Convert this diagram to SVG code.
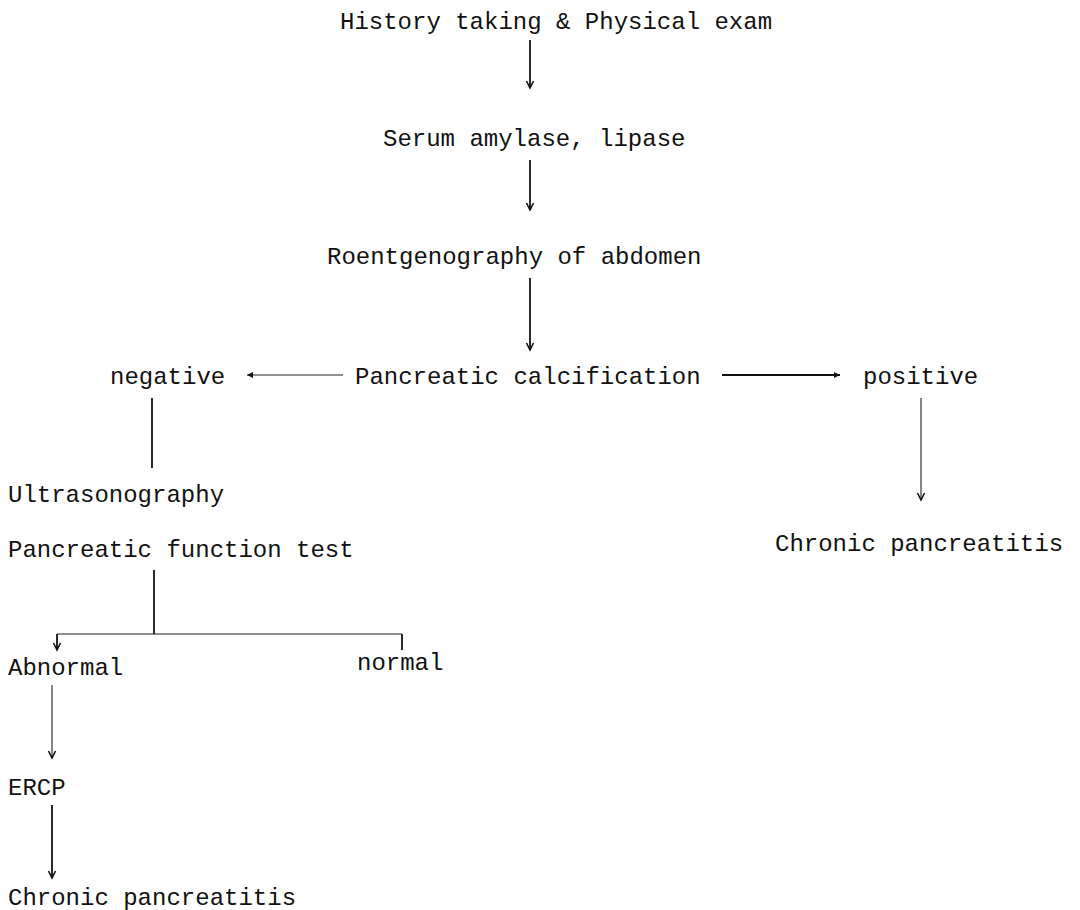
<svg xmlns="http://www.w3.org/2000/svg" width="1080" height="910" viewBox="0 0 1080 910">
<defs>
<style>
text{font-family:"Liberation Mono","DejaVu Sans Mono",monospace;font-size:24px;fill:#111}
.c{stroke:#111;stroke-width:1.8;fill:none}
.t{stroke:#222;stroke-width:1.1;fill:none}
</style>
<marker id="ah" markerWidth="10" markerHeight="10" refX="8" refY="5" orient="auto" markerUnits="userSpaceOnUse">
<path d="M1,1.5 L8,5 L1,8.5" fill="none" stroke="#111" stroke-width="1.6"/>
</marker>
<marker id="as" markerWidth="8" markerHeight="8" refX="6" refY="4" orient="auto" markerUnits="userSpaceOnUse">
<path d="M0,1 L6,4 L0,7 Z" fill="#111"/>
</marker>
</defs>
<rect width="1080" height="910" fill="#fff"/>
<g id="connectors">
<line class="c" x1="530" y1="40" x2="530" y2="88" marker-end="url(#ah)"/>
<line class="c" x1="530" y1="160" x2="530" y2="210" marker-end="url(#ah)"/>
<line class="c" x1="530" y1="278" x2="530" y2="350" marker-end="url(#ah)"/>
<line class="t" x1="343" y1="375" x2="247" y2="375" marker-end="url(#as)"/>
<line class="c" x1="722" y1="375" x2="840" y2="375" marker-end="url(#as)"/>
<line class="c" x1="152" y1="398" x2="152" y2="468"/>
<line class="t" x1="921" y1="398" x2="921" y2="500" marker-end="url(#ah)"/>
<line class="c" x1="154" y1="570" x2="154" y2="634"/>
<line class="t" x1="57" y1="634" x2="402" y2="634"/>
<line class="c" x1="57" y1="634" x2="57" y2="650" marker-end="url(#ah)"/>
<line class="c" x1="402" y1="634" x2="402" y2="650"/>
<line class="t" x1="52" y1="685" x2="52" y2="758" marker-end="url(#ah)"/>
<line class="c" x1="52" y1="805" x2="52" y2="878" marker-end="url(#ah)"/>
</g>
<g id="n-history"><text x="340" y="29">History taking &amp; Physical exam</text></g>
<g id="n-serum"><text x="383" y="146">Serum amylase, lipase</text></g>
<g id="n-roentgen"><text x="327" y="264">Roentgenography of abdomen</text></g>
<g id="n-calc"><text x="355" y="384">Pancreatic calcification</text></g>
<g id="n-negative"><text x="110" y="384">negative</text></g>
<g id="n-positive"><text x="863" y="384">positive</text></g>
<g id="n-ultra"><text x="8" y="502">Ultrasonography</text></g>
<g id="n-pft"><text x="8" y="557">Pancreatic function test</text></g>
<g id="n-abnormal"><text x="8" y="675">Abnormal</text></g>
<g id="n-normal"><text x="357" y="670">normal</text></g>
<g id="n-ercp"><text x="8" y="795">ERCP</text></g>
<g id="n-chronic1"><text x="8" y="905">Chronic pancreatitis</text></g>
<g id="n-chronic2"><text x="775" y="551">Chronic pancreatitis</text></g>
</svg>
